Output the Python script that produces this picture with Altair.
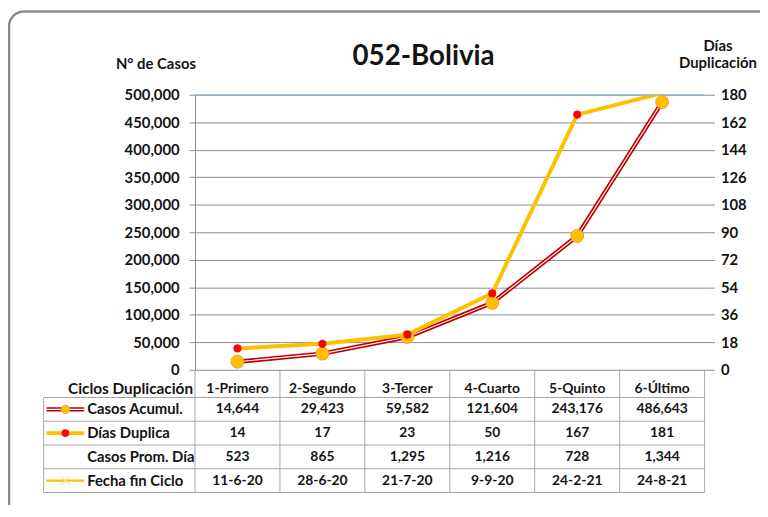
import altair as alt
import pandas as pd
import numpy as np

# ---------------- data ----------------
ciclos = ["1-Primero", "2-Segundo", "3-Tercer", "4-Cuarto", "5-Quinto", "6-Último"]
casos_acumul = [14644, 29423, 59582, 121604, 243176, 486643]
dias_duplica = [14, 17, 23, 50, 167, 181]
casos_prom_dia = [523, 865, 1295, 1216, 728, 1344]
fecha_fin = ["11-6-20", "28-6-20", "21-7-20", "9-9-20", "24-2-21", "24-8-21"]
row_labels = ["Casos Acumul.", "Días Duplica", "Casos Prom. Día", "Fecha fin Ciclo"]
casos_ticks = list(range(0, 500001, 50000))
dias_ticks = list(range(0, 181, 18))

# ---------------- layout / style ----------------
W, H = 515, 278
TBL_H = 124
HEAD_TOP = -1 / 6          # header row is a bit taller than the body rows
FONT = "Lato"
TXT = "#141414"
GRID_H = "#8C8C8C"
GRID_V = "#8A96AE"
TBL_LINE = "#A6A6A6"

series = pd.DataFrame({
    "ciclo": ciclos,
    "pos": np.arange(len(ciclos)) + 0.5,
    "casos": casos_acumul,
    "dias": dias_duplica,
})

xs = alt.Scale(domain=[0, len(ciclos)])
tbl_y = alt.Scale(domain=[HEAD_TOP, 5], range=[H, H + TBL_H])

base = alt.Chart(series)

x_main = alt.X("pos:Q", scale=xs,
               axis=alt.Axis(values=list(range(len(ciclos) + 1)), grid=True, gridColor=GRID_V,
                             gridWidth=1, labels=False, ticks=False, domain=False, title=None))
x_plain = alt.X("pos:Q", scale=xs, axis=None)

casos_scale = alt.Scale(domain=[0, 500000])
dias_scale = alt.Scale(domain=[0, 180])

casos_line = base.mark_line(color="#C00000", strokeWidth=4.5).encode(
    x=x_main,
    y=alt.Y("casos:Q", scale=casos_scale,
            axis=alt.Axis(values=casos_ticks, format=",d", grid=True, gridColor=GRID_H,
                          domainColor=GRID_H, tickColor=GRID_H, tickSize=6, labelPadding=10,
                          labelFont=FONT, labelFontSize=15, labelFontWeight="bold", labelColor=TXT,
                          title="N° de Casos", titleFont=FONT, titleFontSize=15,
                          titleFontWeight="bold", titleColor=TXT, titleAngle=0,
                          titleX=-40, titleY=-31, titleAlign="center", titleBaseline="middle")),
)
casos_inner = base.mark_line(color="white", strokeWidth=1.1).encode(
    x=x_plain, y=alt.Y("casos:Q", scale=casos_scale, axis=None))

dias_line = base.mark_line(color="#FFC000", strokeWidth=4, clip=True).encode(
    x=x_plain,
    y=alt.Y("dias:Q", scale=dias_scale,
            axis=alt.Axis(orient="right", values=dias_ticks, grid=False, domain=False,
                          tickColor=GRID_H, tickSize=10, labelPadding=6,
                          labelFont=FONT, labelFontSize=15, labelFontWeight="bold", labelColor=TXT,
                          title=["Días", "Duplicación"], titleFont=FONT, titleFontSize=15,
                          titleFontWeight="bold", titleColor=TXT, titleAngle=0,
                          titleX=13, titleY=-57, titleAlign="center", titleBaseline="top",
                          titleLineHeight=18)),
)

casos_pts = base.mark_point(filled=True, shape="circle", size=170, fill="#FFC000",
                            stroke="#F59A3C", strokeWidth=1, opacity=1).encode(
    x=x_plain, y=alt.Y("casos:Q", scale=casos_scale, axis=None))

dias_pts = base.transform_filter(alt.datum.dias <= 180).mark_point(
    filled=True, shape="circle", size=60, fill="#FF0000", stroke="#E00000",
    strokeWidth=0.5, opacity=1, clip=True).encode(
    x=x_plain, y=alt.Y("dias:Q", scale=dias_scale, axis=None))

top_rule = alt.Chart(pd.DataFrame({"a": [0]})).mark_rule(color="#8EB4E3", strokeWidth=1).encode(
    x=alt.value(0), x2=alt.value(W), y=alt.value(0))

title_txt = alt.Chart(pd.DataFrame({"t": ["052-Bolivia"]})).mark_text(
    font=FONT, fontSize=28, fontWeight="bold", color=TXT, align="center", baseline="middle").encode(
    text="t:N", x=alt.value(231), y=alt.value(-38))

border = alt.Chart(pd.DataFrame({"a": [0]})).mark_rect(
    cornerRadius=15, fillOpacity=0, fill="white", stroke="#8A8A8A", strokeWidth=2.5).encode(
    x=alt.value(-188), x2=alt.value(W + 90), y=alt.value(-84), y2=alt.value(H + 150))

# ---------------- table ----------------
head_c = 0.64
cells = []
for i, c in enumerate(ciclos):
    p = i + 0.5
    cells.append({"pos": p, "r": head_c, "t": c})
    cells.append({"pos": p, "r": 1.5, "t": f"{casos_acumul[i]:,}"})
    cells.append({"pos": p, "r": 2.5, "t": f"{dias_duplica[i]}"})
    cells.append({"pos": p, "r": 3.5, "t": f"{casos_prom_dia[i]:,}"})
    cells.append({"pos": p, "r": 4.5, "t": fecha_fin[i]})
cells = pd.DataFrame(cells)

cell_txt = alt.Chart(cells).mark_text(font=FONT, fontSize=14, fontWeight="bold", color=TXT,
                                      align="center", baseline="middle").encode(
    x=x_plain, y=alt.Y("r:Q", scale=tbl_y, axis=None), text="t:N")

lab_df = pd.DataFrame({"r": [1.5, 2.5, 3.5, 4.5], "t": row_labels})
lab_txt = alt.Chart(lab_df).mark_text(font=FONT, fontSize=15, fontWeight="bold", color=TXT,
                                      align="left", baseline="middle").encode(
    x=alt.value(-109), y=alt.Y("r:Q", scale=tbl_y, axis=None), text="t:N")

head_df = pd.DataFrame({"r": [head_c], "t": ["Ciclos Duplicación"]})
head_txt = alt.Chart(head_df).mark_text(font=FONT, fontSize=15.5, fontWeight="bold", color=TXT,
                                        align="right", baseline="middle").encode(
    x=alt.value(-2), y=alt.Y("r:Q", scale=tbl_y, axis=None), text="t:N")

hlines = alt.Chart(pd.DataFrame({"b": [1, 2, 3, 4, 5]})).mark_rule(color=TBL_LINE, strokeWidth=1).encode(
    x=alt.value(-153), x2=alt.value(W), y=alt.Y("b:Q", scale=tbl_y, axis=None))

vlines = alt.Chart(pd.DataFrame({"xb": list(range(len(ciclos) + 1)), "y0": HEAD_TOP, "y1": 5})).mark_rule(
    color=TBL_LINE, strokeWidth=1).encode(
    x=alt.X("xb:Q", scale=xs, axis=None), y=alt.Y("y0:Q", scale=tbl_y, axis=None), y2="y1:Q")

lborder = alt.Chart(pd.DataFrame({"y0": [1], "y1": [5]})).mark_rule(color=TBL_LINE, strokeWidth=1).encode(
    x=alt.value(-153), y=alt.Y("y0:Q", scale=tbl_y, axis=None), y2="y1:Q")

# legend glyphs in the label column
g1 = pd.DataFrame({"r": [1.5]})
g2 = pd.DataFrame({"r": [2.5]})
g4 = pd.DataFrame({"r": [4.5]})
gy = lambda: alt.Y("r:Q", scale=tbl_y, axis=None)
glyph_c_line = alt.Chart(g1).mark_rule(color="#C00000", strokeWidth=4.5).encode(
    x=alt.value(-150), x2=alt.value(-112), y=gy())
glyph_c_inner = alt.Chart(g1).mark_rule(color="white", strokeWidth=1.1).encode(
    x=alt.value(-150), x2=alt.value(-112), y=gy())
glyph_c_pt = alt.Chart(g1).mark_point(filled=True, shape="circle", size=70, fill="#FFC000",
                                      stroke="#F59A3C", strokeWidth=1, opacity=1).encode(
    x=alt.value(-131), y=gy())
glyph_d_line = alt.Chart(g2).mark_rule(color="#FFC000", strokeWidth=4).encode(
    x=alt.value(-150), x2=alt.value(-112), y=gy())
glyph_d_pt = alt.Chart(g2).mark_point(filled=True, shape="circle", size=60, fill="#FF0000",
                                      opacity=1).encode(x=alt.value(-131), y=gy())
glyph_f_line = alt.Chart(g4).mark_rule(color="#FFC000", strokeWidth=2.5).encode(
    x=alt.value(-150), x2=alt.value(-112), y=gy())
glyph_f_pt = alt.Chart(g4).mark_point(shape="M-1,-1L1,1M-1,1L1,-1", size=80, color="#FFE08A",
                                      strokeWidth=1.2, opacity=1).encode(x=alt.value(-131), y=gy())

chart = alt.layer(
    border, casos_line, casos_inner, dias_line, casos_pts, dias_pts, top_rule, title_txt,
    hlines, vlines, lborder, cell_txt, lab_txt, head_txt,
    glyph_c_line, glyph_c_inner, glyph_c_pt, glyph_d_line, glyph_d_pt, glyph_f_line, glyph_f_pt,
).resolve_scale(y="independent").properties(
    width=W, height=H,
    padding={"left": 189, "top": 85, "right": 56, "bottom": 134},
    autosize=alt.AutoSizeParams(type="none"),
    background="white",
).configure_view(strokeWidth=0)

chart.save("out.html", embed_options={"renderer": "svg", "actions": False})
